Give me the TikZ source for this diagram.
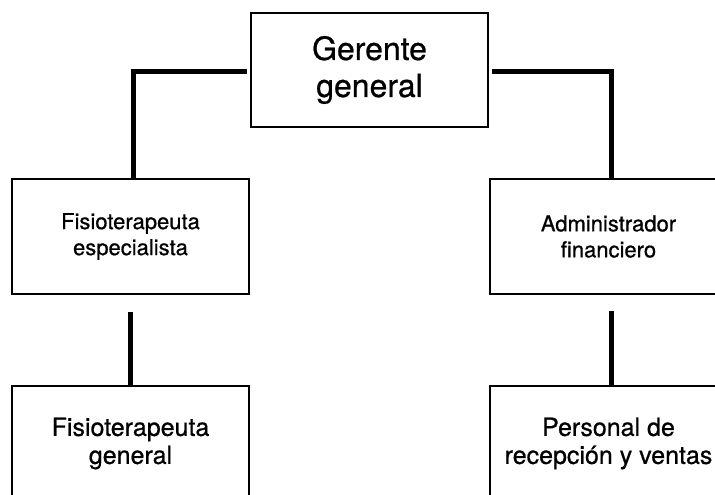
\documentclass[tikz,border=0pt]{standalone}
\usepackage{fontspec}
\setmainfont{TeX Gyre Heros}[FakeBold=0.7]
\usetikzlibrary{calc}
\begin{document}
\begin{tikzpicture}[x=1pt,y=-1pt,
  box/.style={draw=black,line width=2pt,minimum width=237pt,minimum height=115pt,align=center,inner sep=0pt},
  bigtxt/.style={font=\fontsize{32}{37}\selectfont},
  midtxt/.style={font=\fontsize{22}{26}\selectfont},
  lowtxt/.style={font=\fontsize{25}{28}\selectfont},
  conn/.style={line width=5pt,line join=miter}]
\useasboundingbox (0,0) rectangle (715,495);
\clip (0,0) rectangle (715,495);
\node[box,bigtxt,minimum height=114pt] (top) at (369.5,70) {Gerente\\general};
\node[box,midtxt] (fe) at (130.5,236.5) {Fisioterapeuta\\especialista};
\node[box,midtxt] (af) at (608.5,236.5) {Administrador\\financiero};
\node[box,lowtxt] (fg) at (130.5,443.5) {Fisioterapeuta\\general};
\node[box,lowtxt] (pr) at (608.5,443.5) {Personal de\\recepción y ventas};
\draw[conn] ($(top.west)+(-3,2)$) -| ([xshift=3pt]fe.north);
\draw[conn] ($(top.east)+(3,2)$) -| ([xshift=3pt]af.north);
\draw[conn] ([yshift=-17pt]fe.south) -- (fg.north);
\draw[conn] ([xshift=2.5pt,yshift=-16pt]af.south) -- ([xshift=2.5pt]pr.north);
\end{tikzpicture}
\end{document}
